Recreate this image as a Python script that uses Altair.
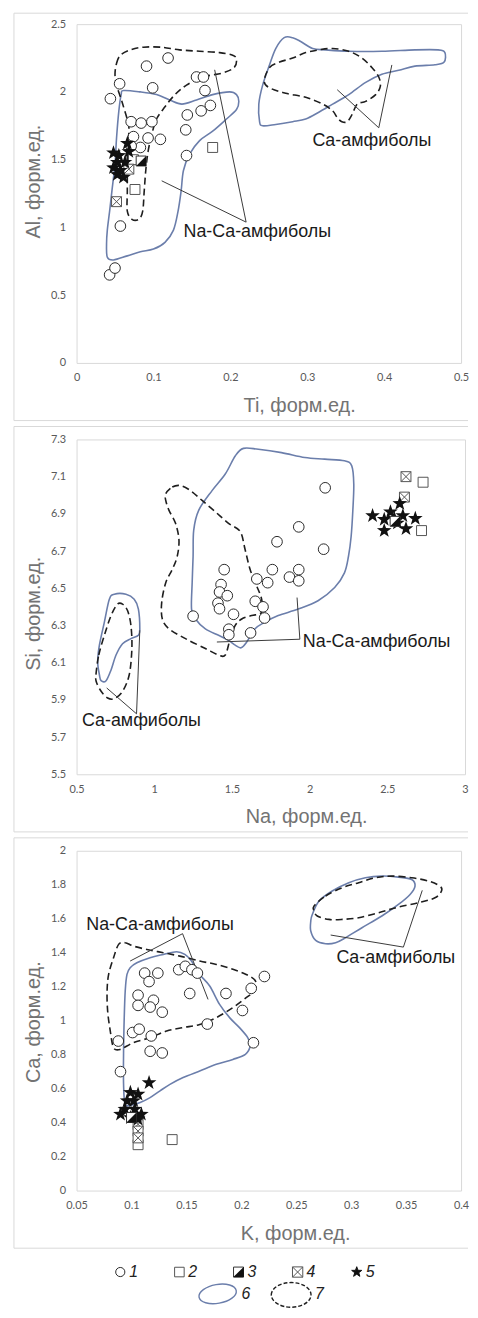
import altair as alt
import pandas as pd

# ---------------- symbols ----------------
STAR = ("M0,-1L0.235,-0.324L0.951,-0.309L0.38,0.124L0.588,0.809L0,0.4"
        "L-0.588,0.809L-0.38,0.124L-0.951,-0.309L-0.235,-0.324Z")
CROSS_SQ = "M-1,-1L1,-1L1,1L-1,1Z M-1,-1L1,1 M1,-1L-1,1"
HALF_TRI = "M1,-1L1,1L-1,1Z"
ELLIPSE = "M-1,0A1,0.5,0,1,1,1,0A1,0.5,0,1,1,-1,0Z"
BLOB = "M-1,0.05A1,0.62,0,1,1,1,0.05A1,0.62,0,1,1,-1,0.05Z"

BLUE = "#6b7eab"
DASHC = "#1e1e1e"
FRAME = "#d9d9d9"

# ================= Panel 1 : Ti - Al =================
p1_circle_x = [0.119, 0.091, 0.056, 0.099, 0.044, 0.156, 0.165, 0.167, 0.174, 0.162, 0.144, 0.142,
               0.143, 0.071, 0.084, 0.098, 0.074, 0.093, 0.109, 0.083, 0.071, 0.057, 0.043, 0.050]
p1_circle_y = [2.25, 2.19, 2.06, 2.03, 1.95, 2.11, 2.11, 2.01, 1.90, 1.86, 1.83, 1.72,
               1.53, 1.78, 1.77, 1.78, 1.67, 1.66, 1.65, 1.59, 1.60, 1.01, 0.65, 0.70]
p1_square_x = [0.177, 0.076, 0.074]
p1_square_y = [1.59, 1.28, 1.50]
p1_xsq_x = [0.052, 0.068]
p1_xsq_y = [1.19, 1.43]
p1_half_x = [0.084]
p1_half_y = [1.49]
p1_star_x = [0.066, 0.048, 0.055, 0.063, 0.053, 0.048, 0.057, 0.053, 0.061, 0.068]
p1_star_y = [1.62, 1.55, 1.53, 1.48, 1.48, 1.44, 1.42, 1.39, 1.37, 1.56]

p1_blue_na_x = [0.061, 0.083, 0.104, 0.121, 0.137, 0.156, 0.177, 0.199, 0.208, 0.211, 0.208, 0.195,
                0.177, 0.160, 0.147, 0.139, 0.136, 0.132, 0.126, 0.115, 0.100, 0.083, 0.066, 0.048,
                0.040, 0.039, 0.040, 0.043, 0.046, 0.050, 0.052, 0.055, 0.058]
p1_blue_na_y = [2.01, 2.00, 1.98, 1.94, 1.91, 1.94, 1.98, 2.00, 1.98, 1.93, 1.87, 1.80,
                1.71, 1.64, 1.54, 1.42, 1.27, 1.12, 0.98, 0.89, 0.84, 0.82, 0.79, 0.76,
                0.78, 0.88, 0.98, 1.12, 1.27, 1.47, 1.66, 1.86, 1.98]
p1_dash_na_x = [0.050, 0.052, 0.057, 0.070, 0.087, 0.109, 0.134, 0.160, 0.186, 0.203, 0.208, 0.205,
                0.190, 0.165, 0.143, 0.128, 0.115, 0.104, 0.098, 0.093, 0.090, 0.088, 0.086, 0.081,
                0.072, 0.066, 0.066, 0.066, 0.066, 0.068, 0.060, 0.052]
p1_dash_na_y = [2.13, 2.21, 2.27, 2.31, 2.33, 2.33, 2.31, 2.30, 2.29, 2.27, 2.24, 2.18,
                2.14, 2.11, 2.05, 1.98, 1.89, 1.80, 1.69, 1.56, 1.42, 1.27, 1.12, 1.06,
                1.06, 1.12, 1.27, 1.47, 1.61, 1.74, 1.91, 2.05]
p1_blue_ca_x = [0.238, 0.237, 0.242, 0.251, 0.259, 0.270, 0.281, 0.292, 0.307, 0.324, 0.354, 0.397,
                0.440, 0.470, 0.479, 0.478, 0.466, 0.440, 0.419, 0.397, 0.376, 0.354, 0.333, 0.315,
                0.298, 0.281, 0.259, 0.242]
p1_blue_ca_y = [1.78, 1.91, 2.05, 2.20, 2.32, 2.40, 2.40, 2.37, 2.32, 2.31, 2.30, 2.30,
                2.31, 2.31, 2.29, 2.22, 2.20, 2.19, 2.16, 2.13, 2.07, 1.98, 1.91, 1.85,
                1.80, 1.78, 1.76, 1.75]
p1_dash_ca_x = [0.244, 0.251, 0.264, 0.281, 0.298, 0.315, 0.333, 0.354, 0.371, 0.384, 0.393, 0.395,
                0.389, 0.376, 0.365, 0.358, 0.352, 0.345, 0.339, 0.333, 0.320, 0.298, 0.272, 0.251]
p1_dash_ca_y = [2.08, 2.18, 2.22, 2.25, 2.29, 2.31, 2.32, 2.30, 2.25, 2.18, 2.11, 2.04,
                1.98, 1.93, 1.91, 1.83, 1.78, 1.78, 1.81, 1.86, 1.91, 1.96, 1.99, 2.03]
p1_label_text = ["Na-Ca-амфиболы", "Ca-амфиболы"]
p1_label_x = [0.235, 0.384]
p1_label_y = [0.965, 1.637]
p1_lead_x = [0.2205, 0.2205, 0.393, 0.393]
p1_lead_y = [1.039, 1.039, 1.735, 1.735]
p1_lead_x2 = [0.1107, 0.1796, 0.339, 0.410]
p1_lead_y2 = [1.344, 2.163, 2.016, 2.199]

# ================= Panel 2 : Na - Si =================
p2_circle_x = [2.10, 1.93, 1.79, 2.09, 1.45, 1.76, 1.93, 1.87, 1.93, 1.66, 1.73, 1.43,
               1.42, 1.47, 1.41, 1.42, 1.65, 1.70, 1.71, 1.51, 1.25, 1.48, 1.48, 1.62]
p2_circle_y = [7.04, 6.83, 6.75, 6.71, 6.60, 6.60, 6.60, 6.56, 6.54, 6.55, 6.53, 6.52,
               6.48, 6.46, 6.42, 6.39, 6.43, 6.40, 6.34, 6.36, 6.35, 6.28, 6.25, 6.26]
p2_square_x = [2.73, 2.72]
p2_square_y = [7.07, 6.81]
p2_xsq_x = [2.62, 2.61]
p2_xsq_y = [7.10, 6.99]
p2_half_x = [2.55]
p2_half_y = [6.86]
p2_star_x = [2.405, 2.48, 2.52, 2.58, 2.60, 2.48, 2.62, 2.68, 2.565, 2.545]
p2_star_y = [6.89, 6.87, 6.91, 6.955, 6.89, 6.81, 6.82, 6.875, 6.85, 6.875]

p2_blue_na_x = [1.574, 1.670, 1.819, 1.969, 2.097, 2.224, 2.271, 2.284, 2.278, 2.267, 2.250, 2.224,
                2.161, 2.054, 1.926, 1.798, 1.713, 1.649, 1.595, 1.559, 1.521, 1.478, 1.414, 1.329,
                1.265, 1.240, 1.244, 1.250, 1.254, 1.286, 1.372, 1.457, 1.521]
p2_blue_na_y = [7.252, 7.247, 7.229, 7.203, 7.194, 7.185, 7.158, 7.061, 6.919, 6.778, 6.672, 6.583,
                6.504, 6.433, 6.388, 6.353, 6.318, 6.282, 6.211, 6.180, 6.194, 6.220, 6.247, 6.282,
                6.335, 6.388, 6.530, 6.672, 6.813, 6.919, 7.025, 7.114, 7.211]
p2_dash_na_x = [1.074, 1.116, 1.169, 1.233, 1.308, 1.393, 1.478, 1.553, 1.585, 1.617, 1.659, 1.691,
                1.691, 1.627, 1.563, 1.521, 1.489, 1.457, 1.414, 1.329, 1.201, 1.095, 1.052, 1.048,
                1.074, 1.116, 1.148, 1.159, 1.137, 1.095, 1.074]
p2_dash_na_y = [7.008, 7.044, 7.052, 7.025, 6.972, 6.911, 6.849, 6.805, 6.707, 6.601, 6.513, 6.441,
                6.371, 6.353, 6.335, 6.300, 6.229, 6.141, 6.141, 6.176, 6.229, 6.282, 6.335, 6.424,
                6.530, 6.601, 6.672, 6.760, 6.849, 6.919, 6.972]
p2_blue_ca_x = [0.647, 0.636, 0.647, 0.679, 0.711, 0.743, 0.818, 0.871, 0.898, 0.907, 0.898, 0.850,
                0.796, 0.754, 0.722, 0.690, 0.658]
p2_blue_ca_y = [6.035, 6.105, 6.194, 6.318, 6.441, 6.468, 6.468, 6.441, 6.388, 6.282, 6.247, 6.229,
                6.202, 6.141, 6.061, 6.003, 6.003]
p2_dash_ca_x = [0.626, 0.643, 0.679, 0.722, 0.764, 0.796, 0.828, 0.850, 0.856, 0.839, 0.796, 0.743,
                0.700, 0.658, 0.626]
p2_dash_ca_y = [6.045, 6.141, 6.247, 6.353, 6.415, 6.415, 6.380, 6.300, 6.176, 6.035, 5.946, 5.907,
                5.910, 5.946, 6.000]
p2_label_text = ["Na-Ca-амфиболы", "Ca-амфиболы"]
p2_label_x = [2.431, 0.918]
p2_label_y = [6.211, 5.787]
p2_lead_x = [1.937, 1.937, 0.886, 0.886]
p2_lead_y = [6.226, 6.226, 5.825, 5.825]
p2_lead_x2 = [1.919, 1.403, 0.694, 0.907]
p2_lead_y2 = [6.450, 6.211, 5.964, 6.274]

# ================= Panel 3 : K - Ca =================
p3_circle_x = [0.088, 0.090, 0.101, 0.107, 0.106, 0.106, 0.112, 0.116, 0.124, 0.120, 0.117, 0.128,
               0.118, 0.117, 0.128, 0.143, 0.149, 0.155, 0.160, 0.153, 0.169, 0.186, 0.201, 0.209,
               0.221, 0.211]
p3_circle_y = [0.88, 0.70, 0.93, 0.95, 1.15, 1.09, 1.28, 1.23, 1.28, 1.12, 1.08, 1.05,
               0.91, 0.82, 0.81, 1.30, 1.32, 1.30, 1.28, 1.16, 0.98, 1.16, 1.06, 1.19,
               1.26, 0.87]
p3_square_x = [0.106, 0.137]
p3_square_y = [0.27, 0.30]
p3_xsq_x = [0.106, 0.106, 0.106]
p3_xsq_y = [0.39, 0.35, 0.31]
p3_half_x = [0.100]
p3_half_y = [0.43]
p3_star_x = [0.116, 0.099, 0.106, 0.102, 0.094, 0.090, 0.103, 0.109, 0.099, 0.106, 0.096]
p3_star_y = [0.635, 0.577, 0.567, 0.528, 0.478, 0.449, 0.478, 0.449, 0.429, 0.420, 0.528]

p3_blue_na_x = [0.0959, 0.0988, 0.1049, 0.1169, 0.129, 0.1411, 0.1486, 0.1546, 0.1621, 0.1712,
                0.1802, 0.1893, 0.1983, 0.2058, 0.208, 0.2037, 0.1923, 0.1772, 0.1621, 0.147,
                0.135, 0.126, 0.1169, 0.1079, 0.1004, 0.0943, 0.0928, 0.0928, 0.0934, 0.0943]
p3_blue_na_y = [1.272, 1.312, 1.341, 1.371, 1.390, 1.406, 1.390, 1.351, 1.272, 1.204,
                1.096, 1.018, 0.959, 0.900, 0.851, 0.802, 0.772, 0.743, 0.704, 0.665,
                0.625, 0.587, 0.547, 0.518, 0.504, 0.508, 0.625, 0.822, 1.018, 1.175]
p3_dash_na_x = [0.0883, 0.0943, 0.1018, 0.1139, 0.129, 0.1441, 0.1621, 0.1772, 0.1923, 0.2044,
                0.2128, 0.2119, 0.2044, 0.1923, 0.1772, 0.1621, 0.147, 0.132, 0.1169, 0.1018,
                0.0898, 0.0837, 0.0807, 0.0783, 0.0778, 0.0792, 0.0837]
p3_dash_na_y = [1.449, 1.459, 1.439, 1.419, 1.400, 1.380, 1.351, 1.331, 1.302, 1.272,
                1.234, 1.175, 1.135, 1.077, 1.018, 0.978, 0.959, 0.939, 0.900, 0.871,
                0.831, 0.841, 0.939, 1.057, 1.175, 1.272, 1.371]
p3_blue_ca_x = [0.2646, 0.2707, 0.2827, 0.2978, 0.3129, 0.3279, 0.343, 0.355, 0.3581, 0.3536,
                0.343, 0.3279, 0.3098, 0.2948, 0.2858, 0.2767, 0.2677, 0.2632, 0.2632]
p3_blue_ca_y = [1.625, 1.704, 1.763, 1.812, 1.841, 1.851, 1.845, 1.831, 1.792, 1.743,
                1.684, 1.616, 1.547, 1.488, 1.459, 1.453, 1.472, 1.528, 1.586]
p3_dash_ca_x = [0.2662, 0.2767, 0.2917, 0.3068, 0.3219, 0.337, 0.3551, 0.3702, 0.3807, 0.3822,
                0.3762, 0.3611, 0.343, 0.3249, 0.3068, 0.2917, 0.2797, 0.2691, 0.2662]
p3_dash_ca_y = [1.675, 1.734, 1.782, 1.812, 1.841, 1.851, 1.841, 1.822, 1.792, 1.763,
                1.723, 1.694, 1.669, 1.635, 1.606, 1.596, 1.596, 1.616, 1.646]
p3_label_text = ["Na-Ca-амфиболы", "Ca-амфиболы"]
p3_label_x = [0.126, 0.3406]
p3_label_y = [1.563, 1.367]
p3_lead_x = [0.1465, 0.1465, 0.3475, 0.3475]
p3_lead_y = [1.512, 1.512, 1.433, 1.433]
p3_lead_x2 = [0.0988, 0.1697, 0.2813, 0.3647]
p3_lead_y2 = [1.351, 1.125, 1.504, 1.767]

# axis settings
p1_xticks = [0, 0.1, 0.2, 0.3, 0.4, 0.5]
p1_yticks = [0, 0.5, 1, 1.5, 2, 2.5]
p2_xticks = [0.5, 1, 1.5, 2, 2.5, 3]
p2_yticks = [5.5, 5.7, 5.9, 6.1, 6.3, 6.5, 6.7, 6.9, 7.1, 7.3]
p3_xticks = [0.05, 0.1, 0.15, 0.2, 0.25, 0.3, 0.35, 0.4]
p3_yticks = [0, 0.2, 0.4, 0.6, 0.8, 1, 1.2, 1.4, 1.6, 1.8, 2]

legend_row1 = ["1", "2", "3", "4", "5"]
legend_row2 = ["6", "7"]

TITLE_FONT = "Liberation Sans"
LABEL_FONT = "Lato"


def pts(xs, ys):
    return pd.DataFrame({"x": xs, "y": ys})


def polys(named):
    rows = []
    for name, xs, ys in named:
        for i, (a, b) in enumerate(zip(xs, ys)):
            rows.append({"poly": name, "i": i, "x": a, "y": b})
    return pd.DataFrame(rows)


def make_panel(W, H, xdom, ydom, xticks, yticks, xtitle, ytitle, xtitle_x, ytitle_y, ftop,
               circ, sq, xsq, half, star, blue_polys, dash_polys, labels, leads):
    xs = alt.Scale(domain=xdom, nice=False, zero=False)
    ys = alt.Scale(domain=ydom, nice=False, zero=False)
    xax = alt.Axis(values=xticks, format="~g", grid=False, domain=False, ticks=False,
                   labelFont=LABEL_FONT, labelFontSize=11, labelColor="#595959",
                   labelPadding=9, labelFlush=False, labelOverlap=False,
                   title=xtitle, titleFont=TITLE_FONT, titleFontSize=20,
                   titleFontWeight="normal", titleColor="#737373",
                   titleX=xtitle_x, titleY=43, titleAlign="center", titleBaseline="middle")
    yax = alt.Axis(values=yticks, format="~g", grid=False, domain=False, ticks=False,
                   labelFont=LABEL_FONT, labelFontSize=11, labelColor="#595959",
                   labelPadding=11, labelFlush=False, labelOverlap=False,
                   title=ytitle, titleFont=TITLE_FONT, titleFontSize=20,
                   titleFontWeight="normal", titleColor="#737373",
                   titleX=-43, titleY=ytitle_y, titleAlign="center", titleBaseline="middle",
                   titleAngle=270)
    X = alt.X("x:Q", scale=xs, axis=xax)
    Y = alt.Y("y:Q", scale=ys, axis=yax)

    dummy = pd.DataFrame({"k": [0]})
    frame_top = alt.Chart(dummy).mark_rule(color=FRAME, strokeWidth=1).encode(
        x=alt.value(-63), x2=alt.value(394), y=alt.value(ftop))
    frame_bot = alt.Chart(dummy).mark_rule(color=FRAME, strokeWidth=1).encode(
        x=alt.value(-63), x2=alt.value(394), y=alt.value(H + 58))
    frame_left = alt.Chart(dummy).mark_rule(color=FRAME, strokeWidth=1).encode(
        x=alt.value(-63), y=alt.value(ftop), y2=alt.value(H + 58))

    blue = alt.Chart(polys(blue_polys)).mark_line(
        interpolate="cardinal-closed", color=BLUE, strokeWidth=1.6).encode(
        x=X, y=Y, detail="poly:N", order="i:Q")
    dash = alt.Chart(polys(dash_polys)).mark_line(
        interpolate="cardinal-closed", color=DASHC, strokeWidth=1.6, strokeDash=[7, 4]).encode(
        x=X, y=Y, detail="poly:N", order="i:Q")
    lead = alt.Chart(pd.DataFrame(leads)).mark_rule(color="#3a3a3a", strokeWidth=1).encode(
        x=X, y=Y, x2="x2:Q", y2="y2:Q")
    c = alt.Chart(pts(*circ)).mark_point(shape="circle", size=115, filled=True, fill="white",
                                          stroke="#2a2a2a", strokeWidth=1, opacity=1).encode(x=X, y=Y)
    s = alt.Chart(pts(*sq)).mark_point(shape="square", size=100, filled=True, fill="white",
                                        stroke="#555555", strokeWidth=1, opacity=1).encode(x=X, y=Y)
    xq = alt.Chart(pts(*xsq)).mark_point(shape=CROSS_SQ, size=100, filled=True, fill="white",
                                          stroke="#555555", strokeWidth=1, opacity=1).encode(x=X, y=Y)
    st = alt.Chart(pts(*star)).mark_point(shape=STAR, size=240, filled=True, fill="#111111",
                                           strokeWidth=0, opacity=1).encode(x=X, y=Y)
    hs = alt.Chart(pts(*half)).mark_point(shape="square", size=100, filled=True, fill="white",
                                           stroke="#333333", strokeWidth=1, opacity=1).encode(x=X, y=Y)
    ht = alt.Chart(pts(*half)).mark_point(shape=HALF_TRI, size=100, filled=True, fill="#111111",
                                           strokeWidth=0, opacity=1).encode(x=X, y=Y)
    txt = alt.Chart(pd.DataFrame(labels)).mark_text(
        font=TITLE_FONT, fontSize=18, color="#1a1a1a", align="center", baseline="middle").encode(
        x=X, y=Y, text="label:N")
    return alt.layer(frame_top, frame_bot, frame_left, blue, dash, lead, c, s, xq, st, hs, ht, txt
                     ).properties(width=W, height=H)


panel1 = make_panel(
    387, 341, [0, 0.5], [0, 2.5], p1_xticks, p1_yticks, "Ti, форм.ед.", "Al, форм.ед.", 224, 158, -11,
    (p1_circle_x, p1_circle_y), (p1_square_x, p1_square_y), (p1_xsq_x, p1_xsq_y),
    (p1_half_x, p1_half_y), (p1_star_x, p1_star_y),
    [("bna", p1_blue_na_x, p1_blue_na_y), ("bca", p1_blue_ca_x, p1_blue_ca_y)],
    [("dna", p1_dash_na_x, p1_dash_na_y), ("dca", p1_dash_ca_x, p1_dash_ca_y)],
    {"label": p1_label_text, "x": p1_label_x, "y": p1_label_y},
    {"x": p1_lead_x, "y": p1_lead_y, "x2": p1_lead_x2, "y2": p1_lead_y2})

panel2 = make_panel(
    391, 337, [0.5, 3], [5.5, 7.3], p2_xticks, p2_yticks, "Na, форм.ед.", "Si, форм.ед.", 231, 175, -13,
    (p2_circle_x, p2_circle_y), (p2_square_x, p2_square_y), (p2_xsq_x, p2_xsq_y),
    (p2_half_x, p2_half_y), (p2_star_x, p2_star_y),
    [("bna", p2_blue_na_x, p2_blue_na_y), ("bca", p2_blue_ca_x, p2_blue_ca_y)],
    [("dna", p2_dash_na_x, p2_dash_na_y), ("dca", p2_dash_ca_x, p2_dash_ca_y)],
    {"label": p2_label_text, "x": p2_label_x, "y": p2_label_y},
    {"x": p2_lead_x, "y": p2_lead_y, "x2": p2_lead_x2, "y2": p2_lead_y2})

panel3 = make_panel(
    387, 342, [0.05, 0.4], [0, 2], p3_xticks, p3_yticks, "K, форм.ед.", "Ca, форм.ед.", 220, 172, -13,
    (p3_circle_x, p3_circle_y), (p3_square_x, p3_square_y), (p3_xsq_x, p3_xsq_y),
    (p3_half_x, p3_half_y), (p3_star_x, p3_star_y),
    [("bna", p3_blue_na_x, p3_blue_na_y), ("bca", p3_blue_ca_x, p3_blue_ca_y)],
    [("dna", p3_dash_na_x, p3_dash_na_y), ("dca", p3_dash_ca_x, p3_dash_ca_y)],
    {"label": p3_label_text, "x": p3_label_x, "y": p3_label_y},
    {"x": p3_lead_x, "y": p3_lead_y, "x2": p3_lead_x2, "y2": p3_lead_y2})

# ---------------- legend ----------------
leg1 = pd.DataFrame({"item": legend_row1})
leg2 = pd.DataFrame({"field": legend_row2})
LX1 = alt.X("item:N", scale=alt.Scale(type="point", domain=legend_row1, range=[44, 282], padding=0),
            axis=None)
LX2 = alt.X("field:N", scale=alt.Scale(type="point", domain=legend_row2, range=[142, 216], padding=0),
            axis=None)
ROW1_Y = 5
ROW2_Y = 27

sym1 = alt.Chart(leg1).mark_point(filled=True, strokeWidth=1, opacity=1).encode(
    x=LX1, y=alt.value(ROW1_Y),
    shape=alt.Shape("item:N", scale=alt.Scale(domain=legend_row1,
                                              range=["circle", "square", "square", CROSS_SQ, STAR]),
                    legend=None),
    fill=alt.Fill("item:N", scale=alt.Scale(domain=legend_row1,
                                            range=["white", "white", "white", "white", "#111111"]),
                  legend=None),
    stroke=alt.Stroke("item:N", scale=alt.Scale(domain=legend_row1,
                                                range=["#2a2a2a", "#555555", "#333333", "#555555", "#111111"]),
                      legend=None),
    size=alt.Size("item:O", scale=alt.Scale(domain=legend_row1, range=[85, 115, 115, 115, 190]),
                  legend=None),
)
tri1 = alt.Chart(leg1).transform_filter(alt.datum.item == "3").mark_point(
    shape=HALF_TRI, size=115, filled=True, fill="#111111", strokeWidth=0, opacity=1).encode(
    x=LX1, y=alt.value(ROW1_Y))
txt1 = alt.Chart(leg1).mark_text(align="left", baseline="middle", dx=9, font=TITLE_FONT,
                                 fontSize=16, fontStyle="italic", color="#222222").encode(
    x=LX1, y=alt.value(ROW1_Y), text="item:N")
row1 = alt.layer(sym1, tri1, txt1)

sym6 = alt.Chart(leg2).transform_filter(alt.datum.field == "6").mark_point(
    shape=ELLIPSE, size=1444, filled=False, stroke=BLUE, strokeWidth=1.4, opacity=1, angle=350).encode(
    x=LX2, y=alt.value(ROW2_Y))
sym7 = alt.Chart(leg2).transform_filter(alt.datum.field == "7").mark_point(
    shape=BLOB, size=1600, filled=False, stroke=DASHC, strokeWidth=1.4, strokeDash=[4, 2],
    opacity=1).encode(
    x=LX2, y=alt.value(ROW2_Y))
txt2 = alt.Chart(leg2).mark_text(align="left", baseline="middle", dx=24, font=TITLE_FONT,
                                 fontSize=16, fontStyle="italic", color="#222222").encode(
    x=LX2, y=alt.value(ROW2_Y), text="field:N")
row2 = alt.layer(sym6, sym7, txt2)

legend = alt.layer(row1, row2).resolve_scale(
    x="independent", shape="independent", fill="independent", stroke="independent",
    size="independent").properties(
    width=387, height=36, view=alt.ViewBackground(strokeOpacity=0))

chart = alt.vconcat(panel1, panel2, panel3, legend, spacing=77, bounds="flush").properties(
    padding={"left": 5, "top": 0, "right": 0, "bottom": 0}
).configure_view(stroke="#d9d9d9", strokeWidth=1)

chart.save("out.html", embed_options={"renderer": "svg", "actions": False})
